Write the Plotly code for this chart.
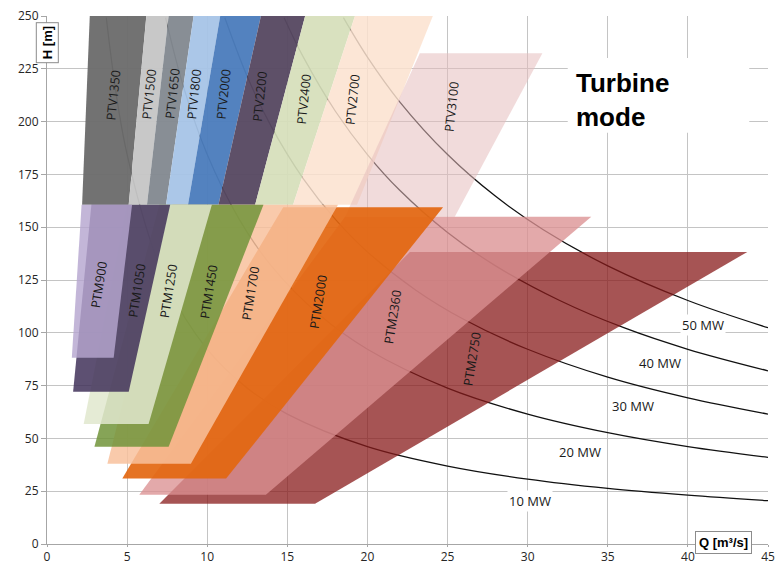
import plotly.graph_objects as go

# ---------------- PTV machines (upper head range) ----------------
ptv_names = ["PTV1350", "PTV1500", "PTV1650", "PTV1800", "PTV2000",
             "PTV2200", "PTV2400", "PTV2700", "PTV3100"]
ptv_q_bl = [2.19, 5.10, 6.24, 7.43, 8.80, 10.70, 12.99, 15.36, 18.60]
ptv_q_br = [5.10, 6.24, 7.43, 8.80, 10.70, 12.99, 15.36, 19.35, 25.45]
ptv_q_tr = [6.20, 7.59, 9.15, 10.81, 13.35, 16.11, 19.22, 24.08, 30.92]
ptv_q_tl = [2.67, 6.20, 7.59, 9.15, 10.81, 13.35, 16.11, 19.22, 23.27]
ptv_h_bot = [160.6, 160.6, 160.6, 160.6, 160.6, 160.6, 160.6, 160.6, 155.0]
ptv_h_top = [250.0, 250.0, 250.0, 250.0, 250.0, 250.0, 250.0, 250.0, 232.4]

# ---------------- PTM machines (lower head range) ----------------
ptm_names = ["PTM900", "PTM1050", "PTM1250", "PTM1450", "PTM1700",
             "PTM2000", "PTM2360", "PTM2750"]
ptm_q_bl = [1.55, 1.63, 2.29, 2.96, 3.77, 4.70, 5.76, 7.01]
ptm_q_br = [4.16, 5.10, 6.34, 7.59, 8.98, 11.18, 13.66, 16.73]
ptm_q_tr = [5.31, 7.69, 10.29, 13.51, 18.16, 24.72, 33.97, 43.71]
ptm_q_tl = [2.16, 2.77, 5.00, 7.01, 7.82, 14.74, 18.60, 22.65]
ptm_h_bot = [88.2, 72.1, 56.8, 46.0, 38.0, 31.0, 23.3, 19.1]
ptm_h_top = [160.6, 160.6, 160.6, 160.6, 160.6, 159.5, 155.0, 138.3]

# ---------------- constant power curves ----------------
power_labels = ["10 MW", "20 MW", "30 MW", "40 MW", "50 MW"]
q_10mw = [3.7, 5, 7.5, 10, 12.5, 15, 20, 25, 30, 35, 40, 45]
h_10mw = [249.2, 184.4, 122.9, 92.2, 73.8, 61.5, 46.1, 36.9, 30.7, 26.3, 23.1, 20.5]
q_20mw = [7.4, 8.5, 10, 12, 14, 17, 20, 25, 30, 35, 40, 45]
h_20mw = [249.2, 216.9, 184.4, 153.7, 131.7, 108.5, 92.2, 73.8, 61.5, 52.7, 46.1, 41.0]
q_30mw = [11.1, 12.5, 14, 16, 18, 20, 23, 26, 30, 35, 40, 45]
h_30mw = [249.2, 221.3, 197.6, 172.9, 153.7, 138.3, 120.3, 106.4, 92.2, 79.0, 69.2, 61.5]
q_40mw = [14.8, 16, 18, 20, 22, 25, 28, 32, 36, 40, 45]
h_40mw = [249.2, 230.5, 204.9, 184.4, 167.6, 147.5, 131.7, 115.3, 102.4, 92.2, 82.0]
q_50mw = [18.5, 20, 22, 25, 28, 31, 35, 40, 45]
h_50mw = [249.2, 230.5, 209.5, 184.4, 164.6, 148.7, 131.7, 115.3, 102.4]

x_ticks = [0, 5, 10, 15, 20, 25, 30, 35, 40, 45]
y_ticks = [0, 25, 50, 75, 100, 125, 150, 175, 200, 225, 250]

# ---------------- styles ----------------
ptv_fill = ["rgba(108,108,108,0.96)", "rgba(198,198,198,0.96)", "rgba(131,137,145,0.96)",
            "rgba(167,196,231,0.95)", "rgba(76,125,188,0.96)", "rgba(87,73,98,0.96)",
            "rgba(214,222,186,0.92)", "rgba(251,226,207,0.85)", "rgba(230,190,190,0.55)"]
ptm_fill = ["rgba(182,166,207,0.82)", "rgba(65,49,89,0.85)", "rgba(224,231,206,0.85)",
            "rgba(113,148,57,0.85)", "rgba(248,193,156,0.85)", "rgba(227,103,16,0.92)",
            "rgba(219,145,146,0.78)", "rgba(136,27,27,0.75)"]

ptv_label_pos = [(4.16, 212.2), (6.4, 212.6), (7.86, 213.1), (9.21, 212.6), (11.0, 213.0),
                 (13.3, 211.8), (16.0, 210.7), (19.1, 210.3), (25.25, 206.7)]
ptm_label_pos = [(3.27, 122.7), (5.62, 120.0), (7.59, 119.5), (10.08, 119.2), (12.72, 118.5),
                 (16.94, 114.8), (21.57, 107.3), (26.55, 87.7)]
power_label_pos = [(30.12, 20.5), (33.24, 43.7), (36.6, 65.5), (38.29, 85.7), (40.97, 103.8)]

fig = go.Figure()

# power curves sit beneath the translucent operating ranges
for q, h in [(q_10mw, h_10mw), (q_20mw, h_20mw), (q_30mw, h_30mw),
             (q_40mw, h_40mw), (q_50mw, h_50mw)]:
    fig.add_trace(go.Scatter(x=q, y=h, mode="lines",
                             line=dict(color="#111111", width=1.3, shape="spline"),
                             hoverinfo="skip"))


def add_range(name, bl, br, tr, tl, hb, ht, color):
    fig.add_trace(go.Scatter(
        x=[bl, br, tr, tl, bl], y=[hb, hb, ht, ht, hb],
        mode="lines", fill="toself", fillcolor=color,
        line=dict(width=0, color="rgba(0,0,0,0)"), name=name, hoverinfo="name"))


for i, n in enumerate(ptv_names):
    add_range(n, ptv_q_bl[i], ptv_q_br[i], ptv_q_tr[i], ptv_q_tl[i],
              ptv_h_bot[i], ptv_h_top[i], ptv_fill[i])

# largest PTM first so the smaller units are layered on top
for i in reversed(range(len(ptm_names))):
    add_range(ptm_names[i], ptm_q_bl[i], ptm_q_br[i], ptm_q_tr[i], ptm_q_tl[i],
              ptm_h_bot[i], ptm_h_top[i], ptm_fill[i])

annotations = []
label_font = dict(family="Open Sans, DejaVu Sans, sans-serif", size=12.5, color="#1a1a1a")
for n, (q, h) in zip(ptv_names, ptv_label_pos):
    annotations.append(dict(x=q, y=h, xref="x", yref="y", text=n, showarrow=False,
                            textangle=-84, font=label_font))
for n, (q, h) in zip(ptm_names, ptm_label_pos):
    annotations.append(dict(x=q, y=h, xref="x", yref="y", text=n, showarrow=False,
                            textangle=-81, font=label_font))
for n, (q, h) in zip(power_labels, power_label_pos):
    annotations.append(dict(x=q, y=h, xref="x", yref="y", text=n, showarrow=False,
                            bgcolor="white", borderpad=1,
                            font=dict(family="Open Sans, DejaVu Sans, sans-serif",
                                      size=13, color="#1a1a1a")))

annotations.append(dict(x=0.7315, y=0.905, xref="paper", yref="paper",
                        text="<b>Turbine<br>mode</b>", showarrow=False, align="left",
                        xanchor="left", yanchor="top",
                        font=dict(family="Liberation Sans, Arial, sans-serif",
                                  size=26, color="black")))
annotations.append(dict(x=0.0, y=0.9485, xref="paper", yref="paper", text="<b>H [m]</b>",
                        xanchor="center", yanchor="middle",
                        showarrow=False, textangle=-90, bgcolor="white",
                        bordercolor="#8c8c8c", borderwidth=1, borderpad=3,
                        font=dict(family="Liberation Sans, Arial, sans-serif",
                                  size=13, color="black")))
annotations.append(dict(x=0.938, y=0.0034, xref="paper", yref="paper",
                        xanchor="center", yanchor="middle",
                        text="<b>Q [m³/s]</b>", showarrow=False, bgcolor="white",
                        bordercolor="#8c8c8c", borderwidth=1, borderpad=3,
                        font=dict(family="Liberation Sans, Arial, sans-serif",
                                  size=13, color="black")))

axis_common = dict(showgrid=True, gridcolor="#c4c4c4", gridwidth=1, zeroline=False,
                   showline=True, linecolor="#a6a6a6", linewidth=1,
                   ticks="outside", tickcolor="#a6a6a6", automargin=False,
                   tickfont=dict(family="Open Sans, DejaVu Sans, sans-serif",
                                 size=12, color="#262626"))

fig.update_layout(
    width=775, height=567,
    margin=dict(l=47, r=7, t=16, b=23),
    paper_bgcolor="white", plot_bgcolor="white",
    showlegend=False,
    xaxis=dict(range=[0, 45], tickvals=x_ticks, ticklen=2, **axis_common),
    yaxis=dict(range=[0, 250], tickvals=y_ticks, ticklen=5, **axis_common),
    annotations=annotations,
    shapes=[dict(type="rect", xref="x", yref="y", x0=32.5, x1=43.83, y0=194.7, y1=230.1,
                 fillcolor="white", line=dict(width=0), layer="between")],
)

fig.write_html("out.html")
